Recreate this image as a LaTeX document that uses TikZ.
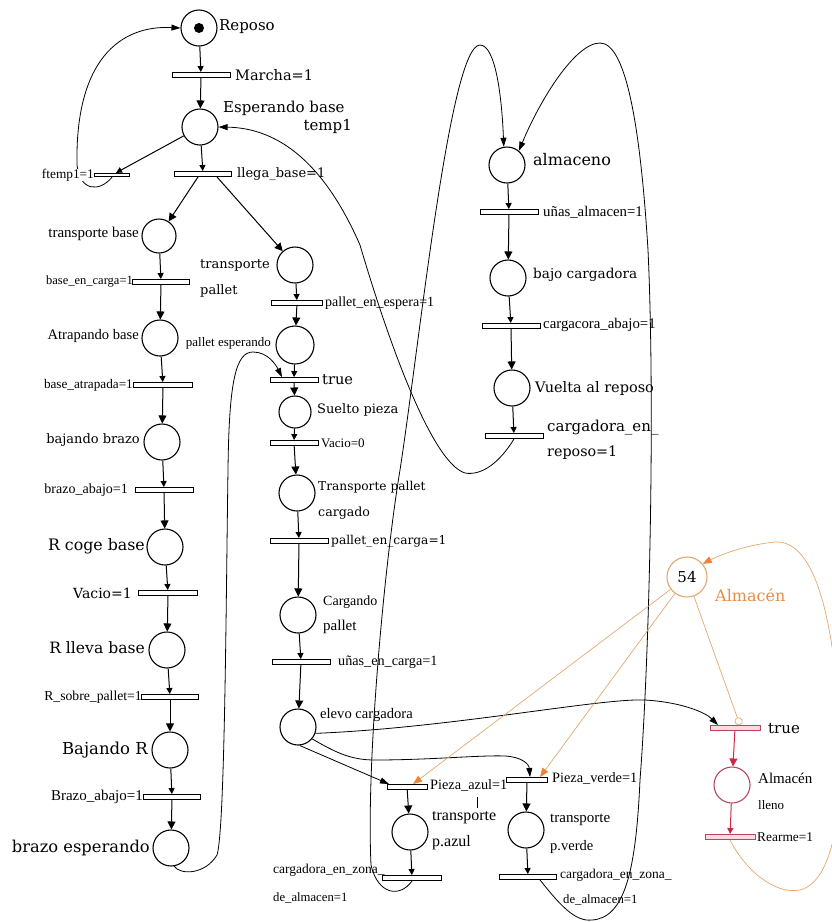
\documentclass[tikz,border=0pt]{standalone}
\usepackage{fontspec}
\usetikzlibrary{arrows.meta}
\newfontfamily\dvs{DejaVu Serif}
\newfontfamily\lbs{Liberation Serif}
\definecolor{orng}{RGB}{226,168,112}
\definecolor{orngtip}{RGB}{240,130,50}
\definecolor{almtxt}{RGB}{232,140,70}
\definecolor{rojo}{RGB}{205,40,75}
\definecolor{rojob}{RGB}{185,70,95}
\definecolor{rosa}{RGB}{250,218,224}

\tikzset{
  place/.style={draw, circle, line width=1.1pt, minimum size=#1, inner sep=0pt},
  place/.default=36pt,
  bar/.style={draw, fill=white, line width=0.9pt, minimum width=#1, minimum height=5pt, inner sep=0pt},
  lb/.style={font=\dvs\fontsize{#1}{#1}\selectfont, inner sep=0pt},
  sm/.style={font=\lbs\fontsize{#1}{#1}\selectfont, inner sep=0pt},
  arcP/.style={-{Triangle[length=8pt,width=8pt]}, line width=1pt},
  arcT/.style={-{Triangle[length=6pt,width=6pt]}, line width=1pt},
  lazo/.style={-{Triangle[length=9pt,width=6pt]}, line width=0.8pt},
  oarc/.style={draw=orng, line width=0.7pt, -{Triangle[length=9pt,width=7pt,color=orngtip]}},
  inhib/.style={draw=orng, line width=0.7pt, -{Circle[open,length=8pt]}}
}

\begin{document}
\begin{tikzpicture}[x=1pt,y=-1pt]
\useasboundingbox (0,0) rectangle (831,922);

% places
\node[place] (reposo) at (199,28) {};
\fill (reposo) circle (5pt);
\node[place] (esperando) at (200,127) {};
\node[place=34pt] (trbase) at (159,236) {};
\node[place] (trpallet) at (295,265) {};
\node[place] (atrapando) at (160,338) {};
\node[place=38pt] (palesp) at (295,345) {};
\node[place=32pt] (suelto) at (295,412) {};
\node[place] (bajbrazo) at (162,442) {};
\node[place] (trcargado) at (297,493) {};
\node[place] (rcoge) at (165,547) {};
\node[place] (cargando) at (298,615) {};
\node[place] (rlleva) at (167,650) {};
\node[place] (elevo) at (298,727) {};
\node[place] (bajandor) at (170,750) {};
\node[place] (brazoesp) at (171,848) {};
\node[place] (trazul) at (410,832) {};
\node[place] (trverde) at (526,830) {};
\node[place] (almaceno) at (507,165) {};
\node[place] (bajocarg) at (508,278) {};
\node[place] (vuelta) at (512,388) {};
\node[place=40pt, draw=orng, lb=15] (almacen) at (687,577) {54};
\node[place, draw=rojob] (lleno) at (732,785) {};

% transitions
\node[bar=58pt] (tmarcha) at (201,75) {};
\node[bar=35pt, minimum height=3.5pt] (tftemp) at (112,175) {};
\node[bar=57pt] (tllega) at (203,174) {};
\node[bar=57pt] (tbasecarga) at (161,282) {};
\node[bar=51pt] (tpalletesp) at (297,303) {};
\node[bar=48pt] (ttrue) at (294,380) {};
\node[bar=59pt] (tatrapada) at (163,385) {};
\node[bar=48pt] (tvacio0) at (294,443) {};
\node[bar=58pt] (tbrazoab) at (164,490) {};
\node[bar=58pt] (tpalletcarga) at (299,541) {};
\node[bar=59pt] (tvacio1) at (168,593) {};
\node[bar=58pt] (tunascarga) at (301,662) {};
\node[bar=57pt] (trsobre) at (170,697) {};
\node[bar=57pt] (tbrazoab2) at (172,797) {};
\node[bar=40pt] (tpazul) at (407,787) {};
\node[bar=41pt] (tpverde) at (527,780) {};
\node[bar=59pt] (tzonaA) at (412,878) {};
\node[bar=57pt] (tzonaB) at (528,877) {};
\node[bar=58pt] (tunasalm) at (509,212) {};
\node[bar=58pt] (tcargabajo) at (511,326) {};
\node[bar=58pt] (tcargreposo) at (514,436) {};
\node[bar=50pt, draw=rojob, fill=rosa] (ttrueR) at (735,728) {};
\node[bar=50pt, draw=rojob, fill=rosa] (trearme) at (730,837) {};

% arcs, left column
\draw[arcT] (reposo) -- (tmarcha);
\draw[arcP] (tmarcha) -- (esperando);
\draw[arcT] (esperando) -- (tllega);
\draw[arcT] (esperando) -- (tftemp);
\draw[arcP] ([xshift=-5pt]tllega.south) -- (trbase);
\draw[arcP] ([xshift=14pt]tllega.south) -- (trpallet);
\draw[arcT] (trbase) -- (tbasecarga);
\draw[arcP] (tbasecarga) -- (atrapando);
\draw[arcT] (atrapando) -- (tatrapada);
\draw[arcP] (tatrapada) -- (bajbrazo);
\draw[arcT] (bajbrazo) -- (tbrazoab);
\draw[arcP] (tbrazoab) -- (rcoge);
\draw[arcT] (rcoge) -- (tvacio1);
\draw[arcP] (tvacio1) -- (rlleva);
\draw[arcT] (rlleva) -- (trsobre);
\draw[arcP] (trsobre) -- (bajandor);
\draw[arcT] (bajandor) -- (tbrazoab2);
\draw[arcP] (tbrazoab2) -- (brazoesp);
% middle column
\draw[arcT] (trpallet) -- (tpalletesp);
\draw[arcP] (tpalletesp) -- (palesp);
\draw[arcT] (palesp) -- (ttrue);
\draw[arcP] (ttrue) -- (suelto);
\draw[arcT] (suelto) -- (tvacio0);
\draw[arcP] (tvacio0) -- (trcargado);
\draw[arcT] (trcargado) -- (tpalletcarga);
\draw[arcP] (tpalletcarga) -- (cargando);
\draw[arcT] (cargando) -- (tunascarga);
\draw[arcP] (tunascarga) -- (elevo);
\draw[arcP] (tpazul) -- (trazul);
\draw[arcT] (trazul) -- (tzonaA);
\draw[arcP] (tpverde) -- (trverde);
\draw[arcT] (trverde) -- (tzonaB);
% right column
\draw[arcT] (almaceno) -- (tunasalm);
\draw[arcP] (tunasalm) -- (bajocarg);
\draw[arcT] (bajocarg) -- (tcargabajo);
\draw[arcP] (tcargabajo) -- (vuelta);
\draw[arcT] (vuelta) -- (tcargreposo);
\draw[arcP, rojo] (ttrueR) -- (lleno);
\draw[arcT, rojo] (lleno) -- (trearme);

% long arcs
\draw[lazo] (tftemp.south) .. controls (100,192) and (80,192) .. (77,165)
  .. controls (75,60) and (120,25) .. (reposo.west);
\draw[lazo] (tcargreposo.south) .. controls (500,462) and (482,476) .. (465,473)
  .. controls (430,462) and (385,330) .. (360,245)
  .. controls (325,165) and (280,128) .. (esperando.east);
\draw[lazo] (brazoesp.-80) .. controls (180,875) and (205,875) .. (217,855)
  .. controls (225,830) and (226,600) .. (228,470)
  .. controls (229,380) and (236,352) .. (253,352)
  .. controls (268,352) and (276,365) .. ([xshift=-12pt]ttrue.north);
\draw[lazo] (tzonaA.south) .. controls (400,898) and (378,895) .. (371,865)
  .. controls (366,760) and (385,560) .. (400,470)
  .. controls (420,340) and (450,45) .. (480,45)
  .. controls (496,45) and (502,100) .. (almaceno.100);
\draw[lazo] ([xshift=12pt]tzonaB.south) .. controls (560,905) and (575,922) .. (592,920)
  .. controls (625,918) and (636,870) .. (640,780)
  .. controls (650,650) and (655,400) .. (648,250)
  .. controls (640,120) and (625,43) .. (600,43)
  .. controls (575,43) and (540,100) .. (almaceno.50);
\draw[lazo] (elevo.-20) .. controls (450,728) and (600,698) .. (645,700)
  .. controls (680,702) and (705,712) .. ([xshift=-17pt]ttrueR.north);
\draw[lazo] (elevo.-85) -- ([xshift=-18pt]tpazul.north);
\draw[lazo] (elevo.-40) .. controls (335,752) and (350,760) .. (375,760)
  .. controls (430,760) and (480,755) .. (505,756)
  .. controls (522,757) and (529,764) .. ([xshift=3pt]tpverde.north);

% Almacen arcs
\draw[oarc] (almacen) -- ([xshift=6pt]tpazul.north);
\draw[oarc] (almacen) -- ([xshift=13pt]tpverde.north);
\draw[inhib] (almacen) -- ([xshift=5pt]ttrueR.north);
\draw[oarc] (trearme.south) .. controls (745,870) and (775,895) .. (800,890)
  .. controls (840,880) and (845,780) .. (838,700)
  .. controls (830,600) and (810,540) .. (775,542)
  .. controls (745,545) and (720,555) .. (almacen.40);

% labels
\node[lb=15, anchor=west] (lreposo) at (219,27) {Reposo};
\node[lb=14.5, anchor=west] (lmarcha) at (235,75) {Marcha=1};
\node[lb=15, anchor=west] (lesperando) at (223,108) {Esperando base};
\node[lb=15, anchor=east] (ltemp) at (352,126) {temp1};
\node[sm=13.3, anchor=east, fill=white] (lftemp) at (94,175) {ftemp1=1};
\node[lb=13, anchor=west] (lllega) at (237,174) {llega\_base=1};
\node[sm=15, anchor=east] (ltrbase) at (139,234) {transporte base};
\node[lb=13, anchor=west] (ltrpallet) at (200,265) {transporte};
\node[lb=13, anchor=west] (ltrpallet2) at (200,291) {pallet};
\node[sm=12.5, anchor=east] (lbasecarga) at (133,282) {base\_en\_carga=1};
\node[sm=14, anchor=west] (lpalletesp) at (325,303) {pallet\_en\_espera=1};
\node[sm=14.6, anchor=east] (latrapando) at (139,336) {Atrapando base};
\node[sm=13, anchor=east] (lpalesp) at (271,343) {pallet esperando};
\node[lb=14.6, anchor=west] (ltrue) at (322,380) {true};
\node[sm=13.2, anchor=east] (latrapada) at (133,385) {base\_atrapada=1};
\node[lb=13, anchor=west] (lsuelto) at (317,410) {Suelto pieza};
\node[lb=13, anchor=east] (lbajbrazo) at (140,440) {bajando brazo};
\node[sm=13, anchor=west] (lvacio0) at (321,443) {Vacio=0};
\node[sm=14, anchor=east] (lbrazoab) at (128,490) {brazo\_abajo=1};
\node[lb=12.2, anchor=west] (ltrcargado) at (318,487) {Transporte pallet};
\node[lb=12.6, anchor=west] (ltrcargado2) at (318,513) {cargado};
\node[lb=15.8, anchor=east] (lrcoge) at (145,546) {R coge base};
\node[lb=12.2, anchor=west] (lpalletcarga) at (331,541) {pallet\_en\_carga=1};
\node[lb=14, anchor=east] (lvacio1) at (132,593) {Vacio=1};
\node[sm=14, anchor=west] (lcargando) at (323,602) {Cargando};
\node[sm=15, anchor=west] (lcargando2) at (323,627) {pallet};
\node[lb=15.6, anchor=east] (lrlleva) at (145,648) {R lleva base};
\node[sm=14.2, anchor=west] (lunascarga) at (338,662) {uñas\_en\_carga=1};
\node[sm=13.7, anchor=east] (lrsobre) at (142,697) {R\_sobre\_pallet=1};
\node[sm=14.6, anchor=west] (lelevo) at (320,715) {elevo cargadora};
\node[lb=16.5, anchor=east] (lbajandor) at (148,750) {Bajando R};
\node[sm=15, anchor=east] (lbrazoab2) at (143,797) {Brazo\_abajo=1};
\node[lb=16.3, anchor=east] (lbrazoesp) at (150,848) {brazo esperando};
\node[sm=14.3, anchor=west] (lpazul) at (430,785) {Pieza\_azul=1};
\draw (477,797) -- (477,808);
\node[sm=16, anchor=west] (ltrazul) at (432,818) {transporte};
\node[sm=16, anchor=west] (ltrazul2) at (432,843) {p.azul};
\node[sm=13.5, anchor=west] (lzonaA) at (273,870) {cargadora\_en\_zona\_};
\node[sm=12.7, anchor=west] (lzonaA2) at (273,898) {de\_almacen=1};
\node[sm=14.3, anchor=west] (lpverde) at (552,778) {Pieza\_verde=1};
\node[sm=15, anchor=west] (ltrverde) at (550,820) {transporte};
\node[sm=14.5, anchor=west] (ltrverde2) at (550,847) {p.verde};
\node[sm=13.5, anchor=west] (lzonaB) at (560,875) {cargadora\_en\_zona\_};
\node[sm=12.7, anchor=west] (lzonaB2) at (563,900) {de\_almacen=1};
\node[lb=16, anchor=west] (lalmaceno) at (533,160) {almaceno};
\node[sm=14.8, anchor=west] (lunasalm) at (543,212) {uñas\_almacen=1};
\node[lb=13.6, anchor=west] (lbajocarg) at (533,275) {bajo cargadora};
\node[sm=14.8, anchor=west] (lcargabajo) at (543,325) {cargacora\_abajo=1};
\node[lb=14.5, anchor=west] (lvuelta) at (535,388) {Vuelta al reposo};
\node[lb=15, anchor=west] (lcargreposo) at (547,428) {cargadora\_en\_};
\node[lb=14.3, anchor=west] (lcargreposo2) at (547,453) {reposo=1};
\node[lb=16, anchor=west, text=almtxt] (lalmacen) at (715,595) {Almacén};
\node[lb=15, anchor=west] (ltrueR) at (768,728) {true};
\node[sm=15, anchor=west] (llleno) at (758,778) {Almacén};
\node[sm=13, anchor=west] (llleno2) at (758,805) {lleno};
\node[sm=13.4, anchor=west] (lrearme) at (757,837) {Rearme=1};
\end{tikzpicture}
\end{document}
